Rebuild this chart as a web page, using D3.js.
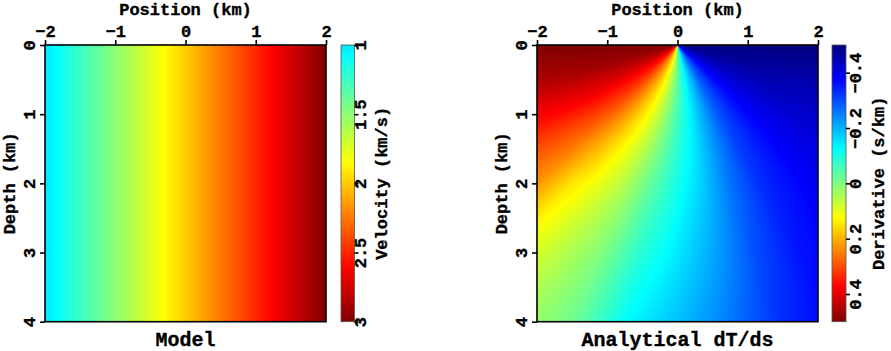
<!DOCTYPE html>
<html><head><meta charset="utf-8">
<script src="https://cdn.jsdelivr.net/npm/d3@7"></script>
<style>
body{margin:0;background:#fff;}
text{font-family:"Liberation Mono","DejaVu Sans Mono",monospace;font-weight:bold;fill:#000;stroke:#000;stroke-width:0.35px;}
.tick text,.lab{font-size:17px;}
.title{font-size:20px;}
</style>
</head><body><svg id="chart" width="891" height="351"></svg>
<script>
// ---------------- data ----------------
const positionTicks = [-2, -1, 0, 1, 2];
const depthTicks = [0, 1, 2, 3, 4];
const modelPositions = [-2, -1.5, -1, -0.5, 0, 0.5, 1, 1.5, 2];
const modelVelocity = [1, 1.25, 1.5, 1.75, 2, 2.25, 2.5, 2.75, 3];
const velocityTicks = [1, 1.5, 2, 2.5, 3];
const derivativeTicks = [-0.4, -0.2, 0, 0.2, 0.4];
// derivative field read in polar form around the source (angle from vertical in degrees, distance in km)
const derivAngles = [-90, -75, -60, -45, -37.5, -30, -20, -10, 0, 10, 20, 30, 45, 60, 75, 90];
const derivRadii = [0, 0.5, 1, 1.5, 2, 2.5, 3, 3.5, 4, 4.5];
const derivValues = [
  [0.5, 0.5, 0.5, 0.5, 0.5, 0.5, 0.5, 0.5, 0.5, 0.5],
  [0.483, 0.478, 0.472, 0.465, 0.455, 0.445, 0.435, 0.425, 0.415, 0.405],
  [0.433, 0.42, 0.405, 0.39, 0.37, 0.35, 0.33, 0.31, 0.29, 0.27],
  [0.354, 0.335, 0.312, 0.285, 0.258, 0.24, 0.222, 0.205, 0.19, 0.175],
  [0.304, 0.28, 0.252, 0.222, 0.19, 0.155, 0.135, 0.12, 0.108, 0.098],
  [0.25, 0.222, 0.19, 0.158, 0.128, 0.1, 0.078, 0.062, 0.05, 0.042],
  [0.171, 0.142, 0.112, 0.082, 0.055, 0.03, 0.01, -0.005, -0.015, -0.022],
  [0.087, 0.057, 0.027, -0.003, -0.032, -0.058, -0.082, -0.105, -0.125, -0.143],
  [0, -0.03, -0.058, -0.083, -0.105, -0.125, -0.145, -0.165, -0.185, -0.2],
  [-0.087, -0.112, -0.132, -0.152, -0.172, -0.192, -0.212, -0.23, -0.248, -0.265],
  [-0.171, -0.19, -0.21, -0.232, -0.252, -0.272, -0.29, -0.307, -0.322, -0.336],
  [-0.25, -0.268, -0.287, -0.304, -0.32, -0.334, -0.347, -0.358, -0.368, -0.378],
  [-0.354, -0.36, -0.367, -0.374, -0.38, -0.385, -0.39, -0.395, -0.4, -0.405],
  [-0.433, -0.432, -0.43, -0.427, -0.423, -0.42, -0.417, -0.414, -0.41, -0.407],
  [-0.483, -0.478, -0.472, -0.465, -0.455, -0.447, -0.44, -0.433, -0.427, -0.42],
  [-0.5, -0.5, -0.5, -0.5, -0.5, -0.5, -0.5, -0.5, -0.5, -0.5]
];

// ---------------- scales / colours ----------------
const jet = d3.scaleLinear()
  .domain([0, 0.125, 0.375, 0.625, 0.875, 1])
  .range(["#000080", "#0000ff", "#00ffff", "#ffff00", "#ff0000", "#800000"])
  .interpolate(d3.interpolateRgb).clamp(true);
const velT = d3.scaleLinear().domain([1, 3]).range([0.35, 1]);
const derT = d3.scaleLinear().domain([-0.5, 0.5]).range([0, 1]);
const velColor = v => jet(velT(v));
const derColor = v => jet(derT(v));

const plotTop = 45, plotBottom = 321.7;
const panels = [
  {x0: 45, x1: 326, cb0: 341, cb1: 354.5, title: "Model", cbLabel: "Velocity (km/s)",
   ticks: velocityTicks, cbDomain: [1, 3], color: velColor, tickLabX: 365.5, cbLabX: 386.5},
  {x0: 537, x1: 818, cb0: 832, cb1: 846, title: "Analytical dT/ds", cbLabel: "Derivative (s/km)",
   ticks: derivativeTicks, cbDomain: [-0.5, 0.5], color: derColor, tickLabX: 861, cbLabX: 884}
];

const velAt = d3.scaleLinear().domain(modelPositions).range(modelVelocity);
const angIdx = d3.scaleLinear().domain(derivAngles).range(d3.range(derivAngles.length)).clamp(true);
const radIdx = d3.scaleLinear().domain(derivRadii).range(d3.range(derivRadii.length)).clamp(true);
function derivAt(x, z) {
  const r = Math.hypot(x, z);
  const a = Math.atan2(x, z) * 180 / Math.PI;
  const ia = angIdx(a), ir = radIdx(r);
  const a0 = Math.min(Math.floor(ia), derivAngles.length - 2);
  const r0 = Math.min(Math.floor(ir), derivRadii.length - 2);
  const fa = ia - a0, fr = ir - r0;
  const v00 = derivValues[a0][r0], v01 = derivValues[a0][r0 + 1];
  const v10 = derivValues[a0 + 1][r0], v11 = derivValues[a0 + 1][r0 + 1];
  return (v00 * (1 - fr) + v01 * fr) * (1 - fa) + (v10 * (1 - fr) + v11 * fr) * fa;
}

function makeImage(w, h, colorAt) {
  const c = document.createElement("canvas");
  c.width = w; c.height = h;
  const ctx = c.getContext("2d");
  const img = ctx.createImageData(w, h);
  for (let j = 0; j < h; j++) for (let i = 0; i < w; i++) {
    const col = d3.rgb(colorAt(i, j));
    const k = (j * w + i) * 4;
    img.data[k] = col.r; img.data[k + 1] = col.g; img.data[k + 2] = col.b; img.data[k + 3] = 255;
  }
  ctx.putImageData(img, 0, 0);
  return c.toDataURL();
}

const svg = d3.select("#chart");
const fmt = d3.format("");

panels.forEach((p, idx) => {
  const x = d3.scaleLinear().domain([-2, 2]).range([p.x0, p.x1]);
  const y = d3.scaleLinear().domain([0, 4]).range([plotTop, plotBottom]);
  const W = Math.round(p.x1 - p.x0), H = Math.round(plotBottom - plotTop);

  const colorAt = idx === 0
    ? (i, j) => velColor(velAt(x.invert(p.x0 + i + 0.5)))
    : (i, j) => derColor(derivAt(x.invert(p.x0 + i + 0.5), y.invert(plotTop + j + 0.5)));
  svg.append("image").attr("x", p.x0).attr("y", plotTop)
    .attr("width", p.x1 - p.x0).attr("height", plotBottom - plotTop)
    .attr("preserveAspectRatio", "none")
    .attr("href", makeImage(W, H, colorAt));
  svg.append("rect").attr("x", p.x0).attr("y", plotTop).attr("width", p.x1 - p.x0).attr("height", plotBottom - plotTop)
    .attr("fill", "none").attr("stroke", "#000").attr("stroke-width", 1.6);

  const gx = svg.append("g").attr("transform", `translate(0,${plotTop})`)
    .call(d3.axisTop(x).tickValues(positionTicks).tickSize(5).tickPadding(3).tickFormat(fmt));
  gx.select(".domain").remove();
  gx.selectAll("line").attr("stroke", "#000").attr("stroke-width", 1.6);
  const gy = svg.append("g").attr("transform", `translate(${p.x0},0)`)
    .call(d3.axisLeft(y).tickValues(depthTicks).tickSize(5).tickFormat(fmt));
  gy.select(".domain").remove();
  gy.selectAll("line").attr("stroke", "#000").attr("stroke-width", 1.6);
  gy.selectAll("text").attr("x", 0).attr("dy", 0).attr("text-anchor", "middle")
    .attr("transform", "translate(-10,0) rotate(-90)");

  svg.append("text").attr("class", "lab").attr("x", (p.x0 + p.x1) / 2).attr("y", 15)
    .attr("text-anchor", "middle").text("Position (km)");
  svg.append("text").attr("class", "lab").attr("text-anchor", "middle")
    .attr("transform", `translate(${p.x0 - 30},${(plotTop + plotBottom) / 2}) rotate(-90)`).text("Depth (km)");
  svg.append("text").attr("class", "title").attr("x", (p.x0 + p.x1) / 2).attr("y", 346)
    .attr("text-anchor", "middle").text(p.title);

  const cy = d3.scaleLinear().domain(p.cbDomain).range([plotTop, plotBottom]);
  const cw = Math.round(p.cb1 - p.cb0);
  svg.append("image").attr("x", p.cb0).attr("y", plotTop)
    .attr("width", p.cb1 - p.cb0).attr("height", plotBottom - plotTop)
    .attr("preserveAspectRatio", "none")
    .attr("href", makeImage(cw, H, (i, j) => p.color(cy.invert(plotTop + j + 0.5))));
  svg.append("rect").attr("x", p.cb0).attr("y", plotTop).attr("width", p.cb1 - p.cb0).attr("height", plotBottom - plotTop)
    .attr("fill", "none").attr("stroke", "#555").attr("stroke-width", 0.8);
  const gc = svg.append("g").attr("transform", `translate(${p.cb1},0)`)
    .call(d3.axisRight(cy).tickValues(p.ticks).tickSize(4).tickFormat(fmt));
  gc.select(".domain").remove();
  gc.selectAll("line").attr("stroke", "#000").attr("stroke-width", 1.6);
  gc.selectAll("text").attr("x", 0).attr("dy", 0).attr("text-anchor", "middle")
    .attr("transform", `translate(${p.tickLabX - p.cb1},0) rotate(-90)`);
  svg.append("text").attr("class", "lab").attr("text-anchor", "middle")
    .attr("transform", `translate(${p.cbLabX},${(plotTop + plotBottom) / 2}) rotate(-90)`).text(p.cbLabel);
});
</script>
</body></html>
